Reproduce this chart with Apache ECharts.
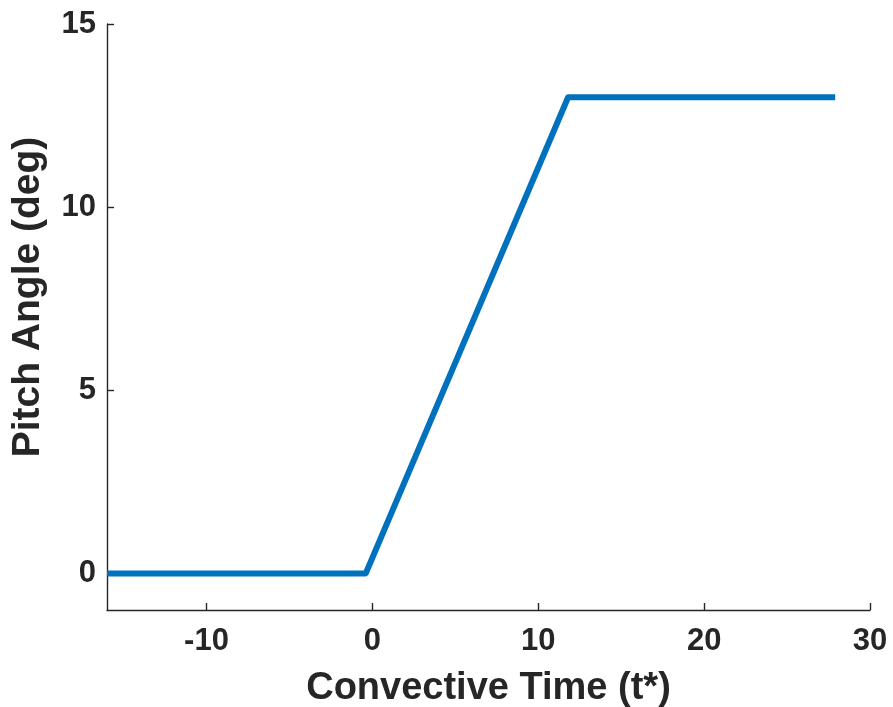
<!DOCTYPE html>
<html><head><meta charset="utf-8">
<script src="https://cdn.jsdelivr.net/npm/echarts@6/dist/echarts.min.js"></script>
<style>html,body{margin:0;padding:0;background:#fff}#c{width:893px;height:707px}</style>
</head><body><div id="c"></div>
<script>
const timeValues = [-16, -0.4, 11.8, 27.9];
const pitchValues = [0, 0, 13, 13];
const xTicks = [-10, 0, 10, 20, 30];
const yTicks = [0, 5, 10, 15];

const chart = echarts.init(document.getElementById('c'), null, {renderer: 'canvas'});
const axisColor = '#262626';
const font = "'Liberation Sans', Arial, Helvetica, sans-serif";
chart.setOption({
  animation: false,
  grid: {left: 107, right: 23, top: 24, bottom: 97, containLabel: false, outerBoundsMode: 'none'},
  xAxis: {
    type: 'value', min: -16, max: 30,
    name: 'Convective Time (t*)', nameLocation: 'middle', nameGap: 60,
    nameTextStyle: {color: axisColor, fontFamily: font, fontWeight: 'bold', fontSize: 38},
    axisLine: {show: true, onZero: false, lineStyle: {color: axisColor, width: 1.4}},
    axisTick: {show: true, inside: true, length: 7, customValues: xTicks, lineStyle: {color: axisColor, width: 1.4}},
    axisLabel: {customValues: xTicks, color: axisColor, fontFamily: font, fontWeight: 'bold', fontSize: 31, margin: 16},
    splitLine: {show: false}
  },
  yAxis: {
    type: 'value', min: -1, max: 15,
    name: 'Pitch Angle (deg)', nameLocation: 'middle', nameGap: 59, nameRotate: 90,
    nameTextStyle: {color: axisColor, fontFamily: font, fontWeight: 'bold', fontSize: 39, padding: [0, 0, 0, 40]},
    axisLine: {show: true, onZero: false, lineStyle: {color: axisColor, width: 1.4}},
    axisTick: {show: true, inside: true, length: 7, customValues: yTicks, lineStyle: {color: axisColor, width: 1.4}},
    axisLabel: {customValues: yTicks, color: axisColor, fontFamily: font, fontWeight: 'bold', fontSize: 31, margin: 11},
    splitLine: {show: false}
  },
  series: [{
    type: 'line', data: timeValues.map((t, i) => [t, pitchValues[i]]),
    showSymbol: false, symbol: 'none',
    lineStyle: {color: '#0072BD', width: 6, cap: 'butt', join: 'round'}
  }]
});
</script></body></html>
